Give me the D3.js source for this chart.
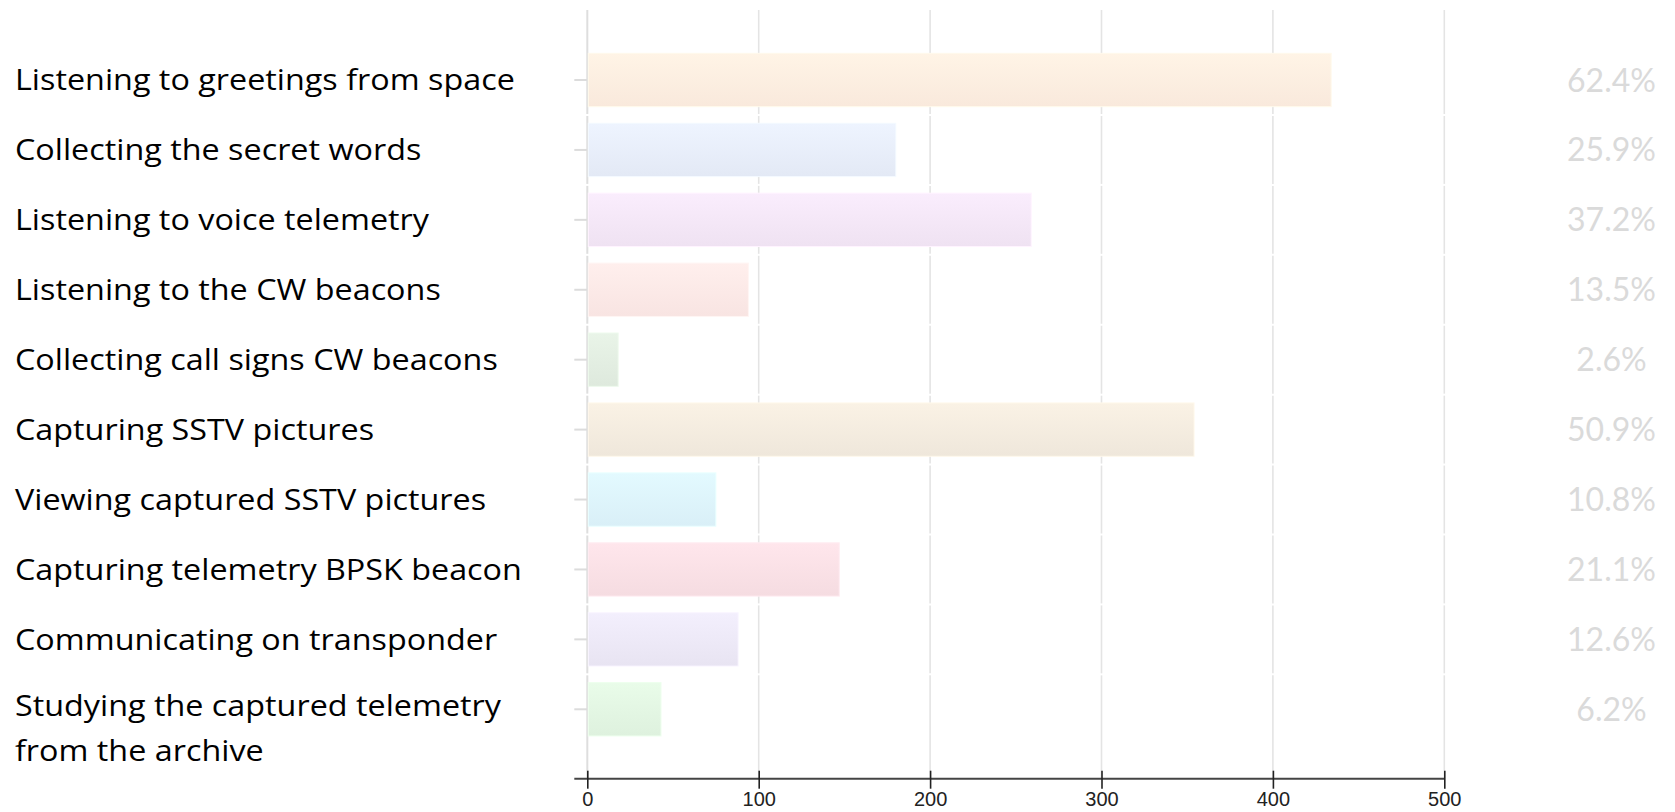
<!DOCTYPE html>
<html>
<head>
<meta charset="utf-8">
<script src="https://cdn.jsdelivr.net/npm/d3@7"></script>
<style>
  html, body { margin: 0; padding: 0; background: #fff; }
  svg { display: block; }
  text { font-variant-ligatures: none; }
</style>
</head>
<body>
<svg id="chart" width="1675" height="812"></svg>
<script>
// ---- data ----
const categories = [
  "Listening to greetings from space",
  "Collecting the secret words",
  "Listening to voice telemetry",
  "Listening to the CW beacons",
  "Collecting call signs CW beacons",
  "Capturing SSTV pictures",
  "Viewing captured SSTV pictures",
  "Capturing telemetry BPSK beacon",
  "Communicating on transponder",
  "Studying the captured telemetry\nfrom the archive"
];
const values = [434, 180, 259, 94, 18, 354, 75, 147, 88, 43];
const percentLabels = ["62.4%", "25.9%", "37.2%", "13.5%", "2.6%", "50.9%", "10.8%", "21.1%", "12.6%", "6.2%"];
const barColors = ["#fdede0", "#e7edf9", "#f3e6f6", "#fce8e6", "#e2ede1", "#f3ebdf", "#ddf3fb", "#f9e0e5", "#ece8f6", "#e2f5e2"];
const xTicks = [0, 100, 200, 300, 400, 500];

// ---- layout ----
const svg = d3.select("#chart");
const x = d3.scaleLinear().domain([0, 500]).range([587.3, 1444.3]);
const y = d3.scaleBand().domain(categories).range([45.05, 744.25])
  .paddingInner(0.237).paddingOuter(0.1185);
const axisY = 778.7;
const topY = 10;
const step = y.step();

// gridlines (drawn per band, with small breaks at band boundaries)
const grid = svg.append("g");
xTicks.forEach(t => {
  categories.forEach((c, i) => {
    const c0 = y(c) + y.bandwidth() / 2;
    let s = c0 - step / 2 + 1, e = c0 + step / 2 - 1;
    if (i === 0) s = topY;
    if (i === categories.length - 1) e = axisY;
    grid.append("line")
      .attr("x1", x(t)).attr("x2", x(t))
      .attr("y1", s).attr("y2", e)
      .attr("stroke", t === 0 ? "#dedede" : "#e4e4e4")
      .attr("stroke-width", t === 0 ? 2 : 1.6);
  });
});

// y-axis ticks (light)
const yAxis = d3.axisLeft(y).tickSize(13).tickFormat("");
const gy = svg.append("g").attr("transform", `translate(${x(0)},0)`).call(yAxis);
gy.select(".domain").remove();
gy.selectAll(".tick line").attr("stroke", "#dcdcdc").attr("stroke-width", 2);

// bars
const defs = svg.append("defs");
barColors.forEach((col, i) => {
  const g = defs.append("linearGradient").attr("id", "bg" + i)
    .attr("x1", 0).attr("y1", 0).attr("x2", 0).attr("y2", 1);
  g.append("stop").attr("offset", "0%").attr("stop-color", d3.color(col).brighter(0.08));
  g.append("stop").attr("offset", "100%").attr("stop-color", d3.color(col).darker(0.05));
});
svg.append("g").selectAll("rect")
  .data(categories)
  .join("rect")
  .attr("x", x(0) + 1)
  .attr("y", d => y(d))
  .attr("width", (d, i) => x(values[i]) - x(0) - 1)
  .attr("height", y.bandwidth())
  .attr("fill", (d, i) => `url(#bg${i})`)
  .attr("stroke", (d, i) => d3.color(barColors[i]).brighter(0.15))
  .attr("stroke-width", 1);

// x axis
const xAxis = d3.axisBottom(x).tickValues(xTicks).tickSize(10).tickSizeOuter(0);
const gx = svg.append("g").attr("transform", `translate(0,${axisY})`).call(xAxis);
gx.select(".domain").attr("d", `M${574.3},0H${x(500)}`).attr("stroke", "#444").attr("stroke-width", 2);
gx.selectAll(".tick line").attr("y1", -8).attr("y2", 10).attr("stroke", "#222").attr("stroke-width", 1.6);
gx.selectAll(".tick text")
  .attr("y", 13)
  .attr("font-family", "'Liberation Sans', Arial, sans-serif")
  .attr("font-size", 20)
  .attr("fill", "#222");

// category labels
const labX = 15;
const lab = svg.append("g")
  .attr("font-family", "'Open Sans', 'Noto Sans', sans-serif")
  .attr("font-size", 28.5)
  .attr("fill", "#000");
const labTexts = [];
categories.forEach(c => {
  const lines = c.split("\n");
  const cy = y(c) + y.bandwidth() / 2;
  const t = lab.append("text").attr("x", labX)
    .attr("y", lines.length > 1 ? cy - 4 : cy);
  lines.forEach((ln, j) => {
    t.append("tspan").attr("x", labX).attr("dy", j === 0 ? "0.36em" : 45).text(ln);
  });
  labTexts.push(t);
});
// match the reference's label width (first label spans ~500px)
const w0 = labTexts[0].node().getComputedTextLength();
const sx = 500 / w0;
lab.attr("transform", `translate(${labX},0) scale(${sx},1) translate(${-labX},0)`);

// percent labels
svg.append("g").selectAll("text")
  .data(categories)
  .join("text")
  .attr("x", 1611.5)
  .attr("y", d => y(d) + y.bandwidth() / 2)
  .attr("dy", "0.36em")
  .attr("text-anchor", "middle")
  .attr("font-family", "Lato, 'Noto Sans', sans-serif")
  .attr("font-size", 32)
  .attr("fill", "#dadada")
  .text((d, i) => percentLabels[i]);
</script>
</body>
</html>
